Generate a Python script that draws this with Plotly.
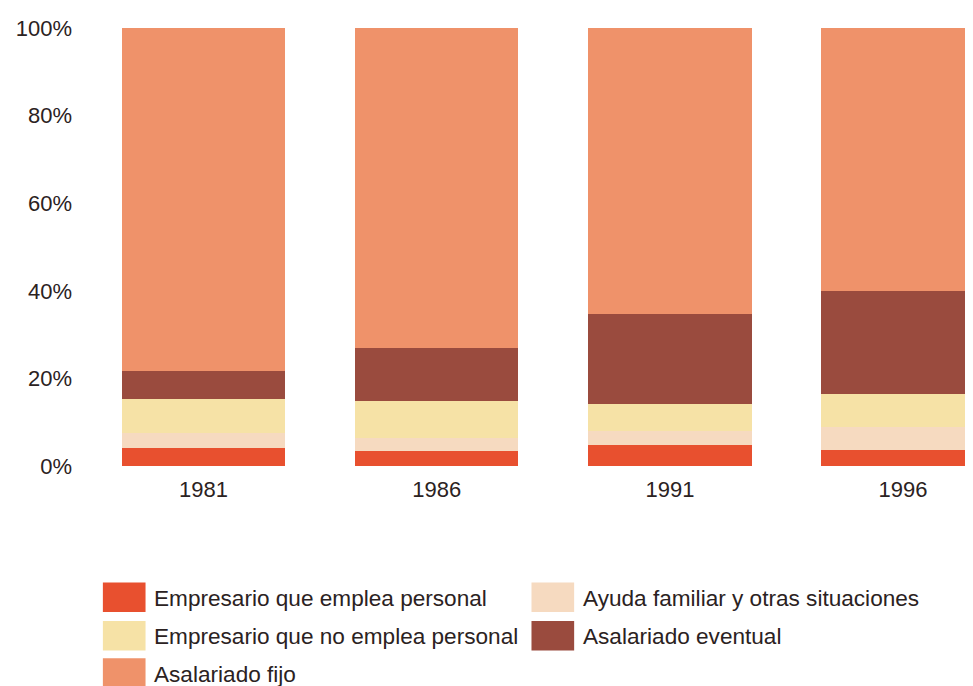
import plotly.graph_objects as go

years = ["1981", "1986", "1991", "1996"]
series_names = [
    "Empresario que emplea personal",
    "Ayuda familiar y otras situaciones",
    "Empresario que no emplea personal",
    "Asalariado eventual",
    "Asalariado fijo",
]
emplea = [4.1, 3.4, 4.7, 3.6]
ayuda = [3.4, 2.9, 3.2, 5.2]
no_emplea = [7.7, 8.6, 6.3, 7.7]
eventual = [6.5, 12.0, 20.5, 23.5]
fijo = [78.3, 73.1, 65.3, 60.0]
values = [emplea, ayuda, no_emplea, eventual, fijo]
colors = ["#E8502F", "#F6DAC0", "#F6E2A6", "#9A4B3E", "#EF926A"]
tick_vals = [0, 20, 40, 60, 80, 100]
tick_text = ["0%", "20%", "40%", "60%", "80%", "100%"]

FONT = "Liberation Sans, Arial, sans-serif"
TXT = "#2b2222"

# The page has an 8px body margin; plot area in page pixels: x 82..973, y 23..466
OFF = 8
PL, PR, PT, PB = 80, 973, 22, 466
W, H = 973, 686

fig = go.Figure()
for name, vals, col in zip(series_names, values, colors):
    fig.add_trace(go.Bar(x=years, y=vals, name=name, marker=dict(color=col, line=dict(width=0)),
                         width=0.7, showlegend=False))

fig.update_layout(
    barmode="stack",
    width=W, height=H,
    margin=dict(l=PL - OFF, r=W - (PR - OFF), t=PT - OFF, b=H - (PB - OFF)),
    plot_bgcolor="white", paper_bgcolor="white",
    font=dict(family=FONT, size=22, color=TXT),
    xaxis=dict(range=[-0.5, 3.3], showgrid=False, showline=False, zeroline=False,
               ticks="", ticklabelstandoff=8, tickfont=dict(size=22, color=TXT)),
    yaxis=dict(range=[0, 100], tickvals=tick_vals, ticktext=tick_text,
               showgrid=True, gridcolor="rgba(255,255,255,0.3)", gridwidth=1,
               zeroline=False, showline=False, layer="above traces",
               ticks="", ticklabelstandoff=14, tickfont=dict(size=22, color=TXT)),
)


def fx(px):
    return (px - PL) / (PR - PL)


def fy(py):
    return (PB - py) / (PB - PT)


# Custom legend (large swatches, two columns), page-pixel positions
legend_pos = [(96, 599), (528, 599), (96, 638), (528, 638), (96, 676)]
for (px, py), name, col in zip(legend_pos, series_names, colors):
    fig.add_shape(type="rect", xref="paper", yref="paper",
                  x0=fx(px), x1=fx(px + 43), y0=fy(py + 15), y1=fy(py - 15),
                  fillcolor=col, line=dict(width=0))
    fig.add_annotation(xref="paper", yref="paper", x=fx(px + 50),
                       y=fy(py + 1), text=name, showarrow=False,
                       xanchor="left", yanchor="middle",
                       font=dict(family=FONT, size=22.6, color=TXT))

fig.write_html("out.html")
